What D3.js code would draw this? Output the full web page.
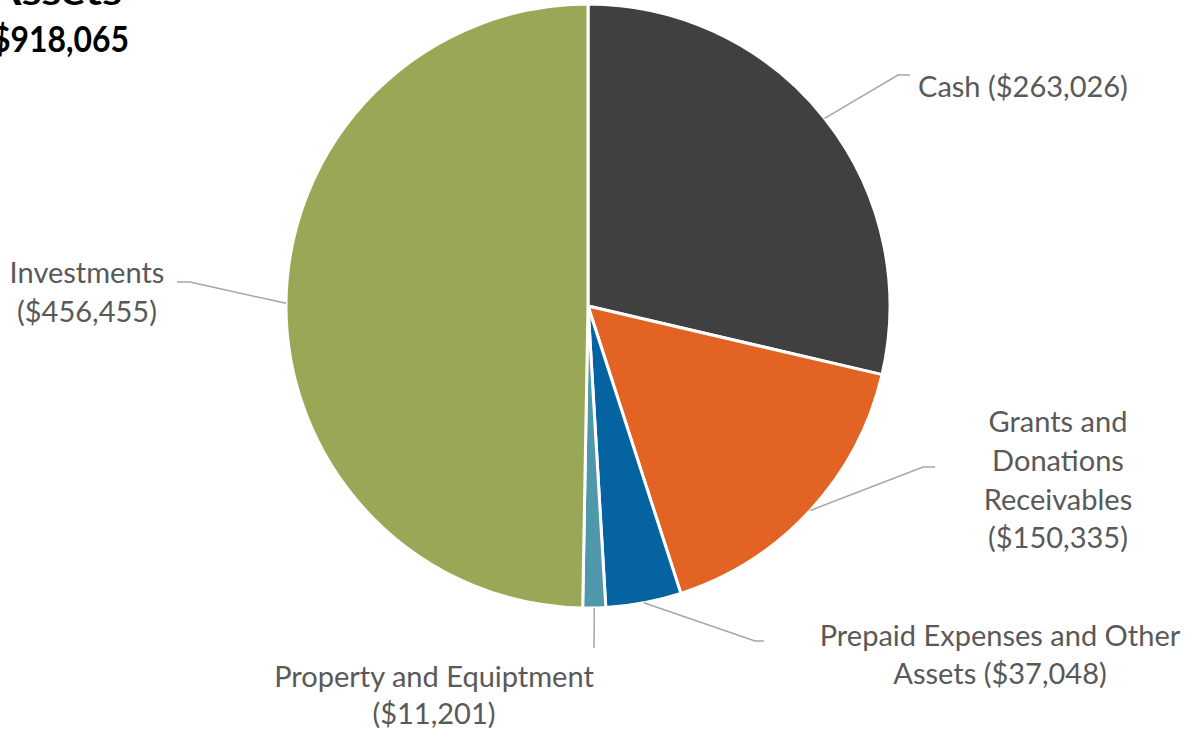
<!DOCTYPE html>
<html>
<head>
<meta charset="utf-8">
<script src="https://cdn.jsdelivr.net/npm/d3@7"></script>
<style>
  html, body { margin: 0; padding: 0; background: #fff; }
  svg { display: block; }
</style>
</head>
<body>
<svg id="chart" width="1196" height="739"></svg>
<script>
// ---- data ----
const categories = ["Cash", "Grants and Donations Receivables", "Prepaid Expenses and Other Assets", "Property and Equiptment", "Investments"];
const values = [263026, 150335, 37048, 11201, 456455];
const labelLines = [
  ["Cash ($263,026)"],
  ["Grants and", "Donations", "Receivables", "($150,335)"],
  ["Prepaid Expenses and Other", "Assets ($37,048)"],
  ["Property and Equiptment", "($11,201)"],
  ["Investments", "($456,455)"]
];
const titleLines = ["Assets", "$918,065"];
const colors = ["#404040", "#e26324", "#0563a2", "#4f97aa", "#9aa757"];

// ---- layout (positions, not data) ----
const cx = 588, cy = 306, R = 302;
const labelLayout = [
  { elbow: [898, 75], end: [910, 75], x: 918, anchor: "start", baselines: [97] },
  { elbow: [923, 467], end: [935, 467], x: 1058, anchor: "middle", baselines: [432, 471, 510, 548] },
  { elbow: [755, 641], end: [764, 641], x: 1000, anchor: "middle", baselines: [646, 684] },
  { elbow: [594, 648], end: [594, 648], x: 434, anchor: "middle", baselines: [687, 724] },
  { elbow: [190, 282], end: [177, 282], x: 87, anchor: "middle", baselines: [283, 322] }
];

const svg = d3.select("#chart");
const data = categories.map((c, i) => ({ c, v: values[i], i }));

const pie = d3.pie().value(d => d.v).sort(null);
const arcs = pie(data);
const arc = d3.arc().innerRadius(0).outerRadius(R);

const g = svg.append("g").attr("transform", `translate(${cx},${cy})`);
g.selectAll("path.slice").data(arcs).enter().append("path")
  .attr("class", "slice")
  .attr("d", arc)
  .attr("fill", d => colors[d.data.i])
  .attr("stroke", "#ffffff")
  .attr("stroke-width", 3)
  .attr("stroke-linejoin", "round");

// leader lines
const edge = d3.arc().innerRadius(R).outerRadius(R);
svg.selectAll("polyline.leader").data(arcs).enter().append("polyline")
  .attr("class", "leader")
  .attr("points", d => {
    const p = edge.centroid(d);
    const L = labelLayout[d.data.i];
    return [[p[0] + cx, p[1] + cy], L.elbow, L.end].map(q => q.join(",")).join(" ");
  })
  .attr("fill", "none")
  .attr("stroke", "#a6a6a6")
  .attr("stroke-width", 1.5);

// label font calibration: match the Cash label width
const fontFam = "Lato, 'Noto Sans', sans-serif";
const probe = svg.append("text").attr("font-family", fontFam).attr("font-size", 28).text(labelLines[0][0]);
const w = probe.node().getComputedTextLength();
probe.remove();
const fs = 28 * 210 / w;

data.forEach(d => {
  const L = labelLayout[d.i];
  const t = svg.append("text")
    .attr("font-family", fontFam)
    .attr("font-size", fs)
    .attr("fill", "#595959")
    .attr("text-anchor", L.anchor);
  labelLines[d.i].forEach((line, k) => {
    t.append("tspan").attr("x", L.x).attr("y", L.baselines[k]).text(line);
  });
});

// title (clipped at the top-left, as in the reference)
const title = svg.append("g");
title.append("text")
  .attr("x", 122).attr("y", 5)
  .attr("text-anchor", "end")
  .attr("font-family", fontFam).attr("font-weight", "bold")
  .attr("font-size", 37).attr("fill", "#000")
  .attr("textLength", 132).attr("lengthAdjust", "spacingAndGlyphs")
  .text(titleLines[0]);
title.append("text")
  .attr("x", 129).attr("y", 52)
  .attr("text-anchor", "end")
  .attr("font-family", fontFam).attr("font-weight", "bold")
  .attr("font-size", 37).attr("fill", "#000")
  .attr("textLength", 137).attr("lengthAdjust", "spacingAndGlyphs")
  .text(titleLines[1]);
</script>
</body>
</html>
